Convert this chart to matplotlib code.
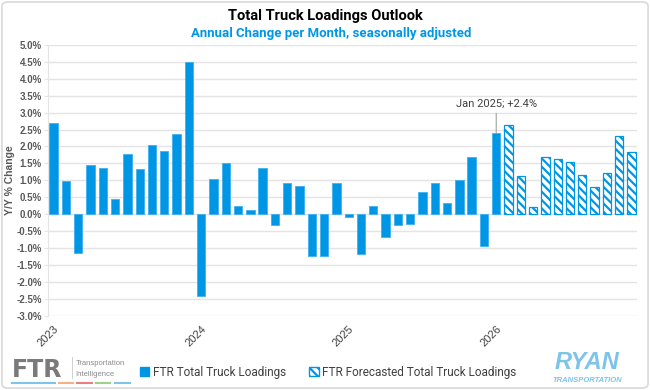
import numpy as np
from matplotlib import pyplot as plt
import matplotlib.patches as ptc
from matplotlib.ticker import FuncFormatter

## DATA (annual % change)
actual = [2.70, 0.97, -1.13, 1.45, 1.37, 0.45, 1.78, 1.35, 2.05, 1.88, 2.37, 4.50,
          -2.40, 1.05, 1.50, 0.24, 0.12, 1.37, -0.31, 0.91, 0.83, -1.24, -1.24, 0.93,
          -0.07, -1.16, 0.25, -0.66, -0.31, -0.30, 0.66, 0.91, 0.33, 1.01, 1.69, -0.95,
          2.40]
forecast = [2.63, 1.12, 0.22, 1.70, 1.64, 1.54, 1.16, 0.79, 1.22, 2.30, 1.83]
year_labels = ['2023', '2024', '2025', '2026']
year_pos = [0, 12, 24, 36]
note_text = 'Jan 2025; +2.4%'

##STYLE
blue = '#0096E6'
grey = '#595959'
narrow = ['Roboto', 'DejaVu Sans']
plt.rcParams['font.family'] = ['Liberation Sans', 'DejaVu Sans']
plt.rcParams['hatch.linewidth'] = 1.6

fig = plt.figure(figsize=(6.5, 3.9), dpi=100)
ax = fig.add_axes([0.074, 0.19, 0.906, 0.695])

x_act = np.arange(len(actual))
x_fc = np.arange(len(actual), len(actual) + len(forecast))

ax.bar(x_act, actual, width=0.68, color=blue, edgecolor='#3FB0F0', linewidth=0.6, zorder=3)
ax.bar(x_fc, forecast, width=0.68, facecolor='white', edgecolor=blue,
       hatch='\\\\\\\\', linewidth=0.9, zorder=3)

#axes cosmetics
ax.set_ylim(-3.0, 5.0)
ax.set_xlim(-0.45, len(actual) + len(forecast) - 0.55)
ax.set_yticks(np.arange(-3.0, 5.01, 0.5))
ax.yaxis.set_major_formatter(FuncFormatter(lambda v, p: '%.1f%%' % v))
ax.grid(axis='y', color='#E4E4E4', linewidth=1.0, zorder=0)
for s in ['top', 'right', 'bottom']:
    ax.spines[s].set_visible(False)
ax.spines['left'].set_color('#E4E4E4')
ax.tick_params(axis='y', length=3, color='#E4E4E4', labelsize=7, labelcolor=grey, pad=1.5)
for t in ax.get_yticklabels():
    t.set_fontweight('bold')
ax.set_xticks(year_pos)
ax.set_xticklabels(year_labels, rotation=45, ha='right', rotation_mode='anchor',
                   fontsize=8, color='#404040')
ax.tick_params(axis='x', length=0, pad=6)
ax.set_ylabel('Y/Y % Change', fontsize=7.5, fontweight='bold', color=grey, labelpad=1)

#callout
ax.annotate(note_text, xy=(36, actual[36]), xytext=(36, 3.1), ha='center', va='bottom',
            fontsize=8, color='#404040', family=narrow,
            arrowprops=dict(arrowstyle='-', color='#A0A0A0', lw=0.8, shrinkA=1, shrinkB=0))

#titles
fig.text(0.5, 0.958, 'Total Truck Loadings Outlook', ha='center', va='center',
         fontsize=10.5, fontweight='bold', color='black', family=narrow)
fig.text(0.51, 0.913, 'Annual Change per Month, seasonally adjusted', ha='center', va='center',
         fontsize=9.5, fontweight='bold', color=blue, family=narrow)

#legend
h1 = ptc.Patch(facecolor=blue, edgecolor=blue, label='FTR Total Truck Loadings')
h2 = ptc.Patch(facecolor='white', edgecolor=blue, hatch='\\\\\\\\',
               label='FTR Forecasted Total Truck Loadings')
fig.legend(handles=[h1, h2], loc='center', bbox_to_anchor=(0.505, 0.045), ncol=2,
           frameon=False, handlelength=0.8, handleheight=0.8,
           handletextpad=0.3, columnspacing=2.0, prop={'family': narrow, 'size': 8.5})
for t in fig.legends[0].get_texts():
    t.set_color('#404040')

#FTR logo (text stand-in)
fig.text(0.018, 0.052, 'FTR', fontsize=17, fontweight='bold', color='#7A7A7A',
         ha='left', va='center', family=['DejaVu Sans'])
fig.add_artist(plt.Line2D([0.110, 0.110], [0.03, 0.085], color='#C8C8C8', lw=0.6))
fig.text(0.116, 0.068, 'Transportation', fontsize=5.5, color='#8A8A8A', ha='left', va='center')
fig.text(0.116, 0.040, 'Intelligence', fontsize=5.5, color='#8A8A8A', ha='left', va='center')
logo_cols = ['#7CC4E8', '#F4B183', '#E88080', '#9ED08A', '#7CC4E8']
logo_x = [(0.018, 0.085), (0.091, 0.112), (0.118, 0.142), (0.148, 0.169), (0.177, 0.2)]
for c, (a, b) in zip(logo_cols, logo_x):
    fig.add_artist(plt.Line2D([a, b], [0.018, 0.018], color=c, lw=1.5))

#RYAN logo (text stand-in)
fig.text(0.903, 0.07, 'RYAN', fontsize=17, fontweight='bold', style='italic',
         color='#7CC4EA', ha='center', va='center')
fig.text(0.903, 0.025, 'TRANSPORTATION', fontsize=5.5, fontweight='bold', style='italic',
         color='#7CC4EA', ha='center', va='center')

#outer border
fig.add_artist(ptc.FancyBboxPatch((0.003, 0.005), 0.994, 0.99, boxstyle='round,pad=0,rounding_size=0.01',
                                  transform=fig.transFigure, fill=False, edgecolor='#D9D9D9', lw=1.2))

fig.savefig('out.png', dpi=100)
